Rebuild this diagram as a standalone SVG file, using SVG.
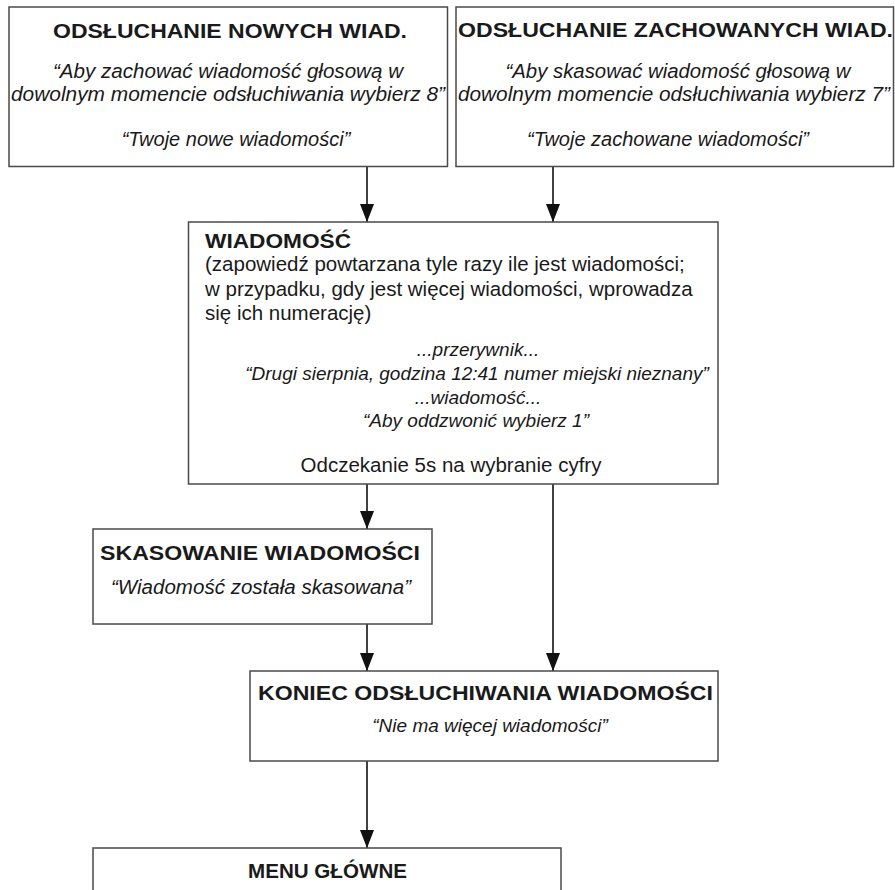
<svg xmlns="http://www.w3.org/2000/svg" width="895" height="890" viewBox="0 0 895 890">
<style>
  .box { fill: #ffffff; stroke: #4a4a4a; stroke-width: 1.5; }
  .t { font-family: "Liberation Sans", Arial, sans-serif; fill: #1a1a1a; }
  .b { font-weight: bold; font-size: 21px; }
  .i { font-style: italic; font-size: 20px; }
  .s { font-size: 19px; }
  .r { font-size: 20.5px; }
  .c { text-anchor: middle; }
  .conn { stroke: #111111; stroke-width: 1.6; fill: none; }
</style>
<defs>
  <marker id="ah" viewBox="0 0 18 14" refX="18" refY="7" markerWidth="18" markerHeight="14" markerUnits="userSpaceOnUse" orient="auto">
    <path d="M0,0 L18,7 L0,14 z" fill="#111111"/>
  </marker>
</defs>
<rect width="895" height="890" fill="#ffffff"/>

<g id="connectors">
  <line class="conn" x1="367" y1="166" x2="367" y2="222" marker-end="url(#ah)"/>
  <line class="conn" x1="553" y1="166" x2="553" y2="222" marker-end="url(#ah)"/>
  <line class="conn" x1="367" y1="484" x2="367" y2="529" marker-end="url(#ah)"/>
  <line class="conn" x1="553" y1="484" x2="553" y2="671" marker-end="url(#ah)"/>
  <line class="conn" x1="367" y1="624" x2="367" y2="671" marker-end="url(#ah)"/>
  <line class="conn" x1="367" y1="761" x2="367" y2="848" marker-end="url(#ah)"/>
</g>

<g id="node-nowe">
  <rect class="box" x="9" y="7" width="438.5" height="159.5"/>
  <text class="t b" x="53" y="38" textLength="354" lengthAdjust="spacingAndGlyphs">ODSŁUCHANIE NOWYCH WIAD.</text>
  <text class="t i c" x="228" y="78" textLength="350" lengthAdjust="spacingAndGlyphs">“Aby zachować wiadomość głosową w</text>
  <text class="t i c" x="228" y="101" textLength="434" lengthAdjust="spacingAndGlyphs">dowolnym momencie odsłuchiwania wybierz 8”</text>
  <text class="t i c" x="236" y="146">“Twoje nowe wiadomości”</text>
</g>

<g id="node-zachowane">
  <rect class="box" x="456" y="7" width="437.5" height="159.5"/>
  <text class="t b" x="458" y="37" textLength="435" lengthAdjust="spacingAndGlyphs">ODSŁUCHANIE ZACHOWANYCH WIAD.</text>
  <text class="t i c" x="678" y="78" textLength="345" lengthAdjust="spacingAndGlyphs">“Aby skasować wiadomość głosową w</text>
  <text class="t i c" x="674" y="101" textLength="432" lengthAdjust="spacingAndGlyphs">dowolnym momencie odsłuchiwania wybierz 7”</text>
  <text class="t i c" x="668" y="146">“Twoje zachowane wiadomości”</text>
</g>

<g id="node-wiadomosc">
  <rect class="box" x="188.5" y="222" width="529.5" height="262"/>
  <text class="t b" x="205" y="248" textLength="146" lengthAdjust="spacingAndGlyphs">WIADOMOŚĆ</text>
  <text class="t r" x="205" y="271">(zapowiedź powtarzana tyle razy ile jest wiadomości;</text>
  <text class="t r" x="205" y="296"> w przypadku, gdy jest więcej wiadomości, wprowadza</text>
  <text class="t r" x="205" y="320">się ich numerację)</text>
  <text class="t i s c" x="478" y="356">...przerywnik...</text>
  <text class="t i s c" x="477" y="380">“Drugi sierpnia, godzina 12:41 numer miejski nieznany”</text>
  <text class="t i s c" x="478" y="404">...wiadomość...</text>
  <text class="t i s c" x="476" y="427">“Aby oddzwonić wybierz 1”</text>
  <text class="t r c" x="451" y="472">Odczekanie 5s na wybranie cyfry</text>
</g>

<g id="node-skasowanie">
  <rect class="box" x="93" y="529" width="339" height="95"/>
  <text class="t b" x="100" y="560" textLength="320" lengthAdjust="spacingAndGlyphs">SKASOWANIE WIADOMOŚCI</text>
  <text class="t i c" x="261" y="594" textLength="300" lengthAdjust="spacingAndGlyphs">“Wiadomość została skasowana”</text>
</g>

<g id="node-koniec">
  <rect class="box" x="250" y="671" width="468" height="90"/>
  <text class="t b" x="258" y="700" textLength="455" lengthAdjust="spacingAndGlyphs">KONIEC ODSŁUCHIWANIA WIADOMOŚCI</text>
  <text class="t i s c" x="490" y="732">“Nie ma więcej wiadomości”</text>
</g>

<g id="node-menu">
  <rect class="box" x="93" y="848" width="468" height="60"/>
  <text class="t b" x="248" y="878" textLength="159" lengthAdjust="spacingAndGlyphs">MENU GŁÓWNE</text>
</g>
</svg>
